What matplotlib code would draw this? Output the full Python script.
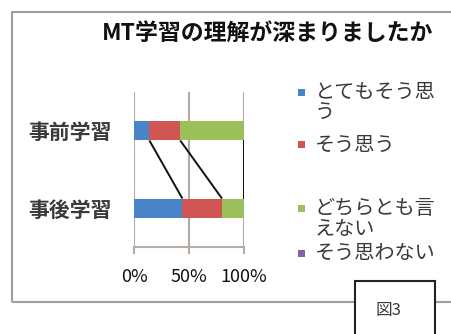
import matplotlib
matplotlib.use("Agg")
import matplotlib.pyplot as plt
from matplotlib.patches import Rectangle

plt.rcParams["font.family"] = ["Noto Sans CJK JP", "DejaVu Sans"]

W, H = 452, 334
INK, TEXT, GRID, FRAME = "#111111", "#3a3a3a", "#b3aba4", "#a39d97"

# données (en %)
categories = ["事前学習", "事後学習"]
series = ["とてもそう思う", "そう思う", "どちらとも言えない", "そう思わない"]
legend_lines = [["とてもそう思", "う"], ["そう思う"], ["どちらとも言", "えない"], ["そう思わない"]]
colors = ["#4a84c8", "#cf5652", "#9bbf5a", "#8064a2"]
pre = [14, 28, 58, 0]
post = [44, 36, 20, 0]
xticks = [0, 50, 100]
xticklabels = ["0%", "50%", "100%"]


def fx(px):
    return px / W


def fy(py):
    return 1 - py / H


fig = plt.figure(figsize=(W / 100, H / 100), dpi=100)
fig.patch.set_facecolor("white")

# cadre extérieur (coupé à droite)
fig.add_artist(Rectangle((fx(12), fy(302)), 1.0, (302 - 12) / H,
                         transform=fig.transFigure, fill=False,
                         edgecolor=FRAME, linewidth=1.5))

ax = fig.add_axes([fx(134), fy(247), (244 - 134) / W, (247 - 92) / H])
ypos = [1, 0]
bh = 0.25
for vals, y in zip([pre, post], ypos):
    left = 0
    for v, c in zip(vals, colors):
        ax.barh(y, v, left=left, height=bh, color=c, zorder=3)
        left += v

# lignes de série
cum_pre, cum_post = 0, 0
for a, b in zip(pre, post):
    cum_pre += a
    cum_post += b
    ax.plot([cum_pre, cum_post], [ypos[0] - bh / 2, ypos[1] + bh / 2],
            color=INK, linewidth=1.4, zorder=2, solid_capstyle="butt")

ax.set_xlim(0, 100)
ax.set_ylim(-0.5, 1.5)
ax.set_xticks(xticks)
ax.set_xticklabels(xticklabels, fontsize=13, color=INK)
ax.set_yticks(ypos)
ax.set_yticklabels(categories, fontsize=15, color=TEXT, fontweight="bold")
ax.xaxis.grid(True, color=GRID, linewidth=1.5, zorder=0)
ax.tick_params(axis="x", length=5, color=GRID, width=1.5, pad=10)
ax.tick_params(axis="y", length=0, pad=16)
for s in ("top", "left", "right"):
    ax.spines[s].set_visible(False)
ax.spines["bottom"].set_color(GRID)
ax.spines["bottom"].set_linewidth(1.5)

# titre
fig.text(fx(268), fy(33), "MT学習の理解が深まりましたか", fontsize=16.5,
         fontweight="bold", color=INK, ha="center", va="center")

# légende
line_y = [[92, 113], [145], [208, 229], [253]]
for lines, ys, c in zip(legend_lines, line_y, colors):
    fig.add_artist(Rectangle((fx(298), fy(ys[0] + 3.5)), 7 / W, 7 / H,
                             transform=fig.transFigure, facecolor=c,
                             edgecolor="none"))
    for t, y in zip(lines, ys):
        fig.text(fx(315), fy(y), t, fontsize=14.5, color=TEXT,
                 ha="left", va="center")

# encadré « 図3 »
fig.add_artist(Rectangle((fx(355), fy(345)), 80 / W, (345 - 281) / H,
                         transform=fig.transFigure, facecolor="white",
                         edgecolor="#222222", linewidth=1.5))
fig.text(fx(388), fy(310), "図3", fontsize=12, color=TEXT,
         ha="center", va="center")

fig.savefig("out.png", dpi=100)
